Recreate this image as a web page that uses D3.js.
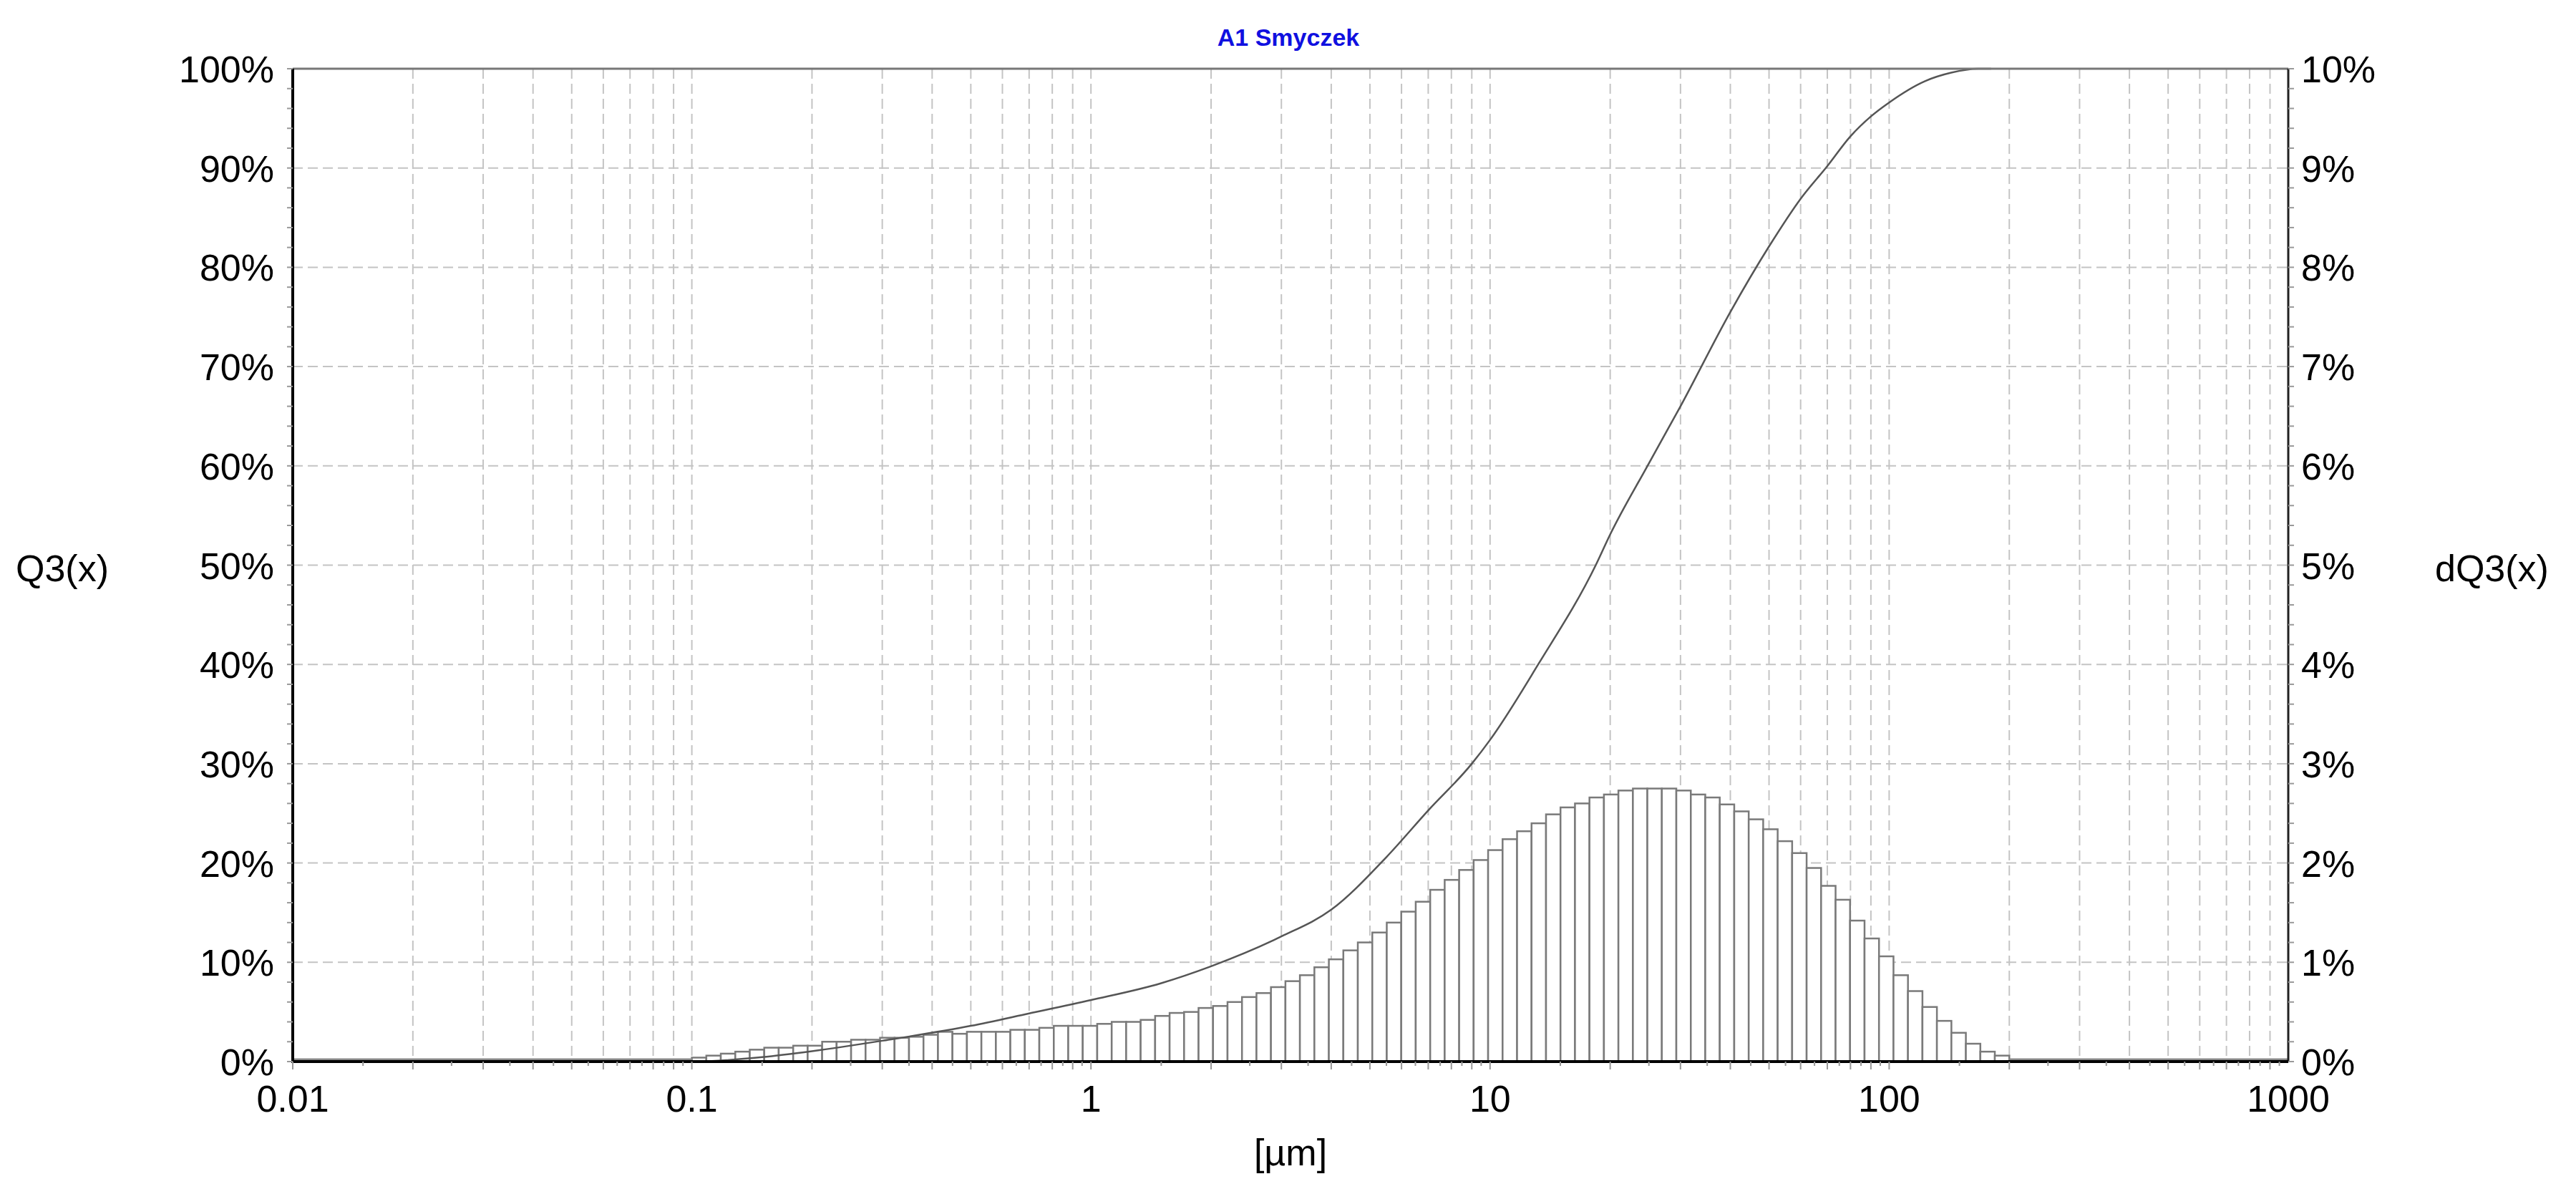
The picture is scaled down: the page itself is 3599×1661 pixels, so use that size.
<!DOCTYPE html>
<html>
<head>
<meta charset="utf-8">
<script src="https://cdn.jsdelivr.net/npm/d3@7"></script>
<style>
  body { margin: 0; background: #fff; }
  text { font-family: "Liberation Sans", Arial, sans-serif; fill: #000; }
  .grid line { stroke: #c4c4c4; stroke-width: 2; stroke-dasharray: 14 7; }
  .bar { fill: #fff; stroke: #7a7a7a; stroke-width: 2.5; }
  .q3 { fill: none; stroke: #555; stroke-width: 2.5; }
</style>
</head>
<body>
<svg width="3599" height="1661"></svg>
<script>
const w = 3599, h = 1661;
const plotL = 409, plotR = 3197, plotT = 96, plotB = 1483;

// histogram: first bin edge, last bin edge (µm), and dQ3 per bin (%)
const binStart = 0.1, binEnd = 200;
const dQ3 = [
  0.04, 0.06, 0.08, 0.10, 0.12, 0.14, 0.14, 0.16, 0.16, 0.20,
  0.20, 0.22, 0.22, 0.24, 0.24, 0.25, 0.27, 0.30, 0.28, 0.30,
  0.30, 0.30, 0.32, 0.32, 0.34, 0.36, 0.36, 0.36, 0.38, 0.40,
  0.40, 0.42, 0.46, 0.49, 0.50, 0.54, 0.56, 0.60, 0.65, 0.69,
  0.75, 0.81, 0.87, 0.95, 1.03, 1.12, 1.20, 1.30, 1.40, 1.51,
  1.61, 1.73, 1.83, 1.93, 2.03, 2.13, 2.24, 2.32, 2.40, 2.49,
  2.56, 2.60, 2.66, 2.69, 2.73, 2.75, 2.75, 2.75, 2.73, 2.69,
  2.66, 2.59, 2.52, 2.44, 2.34, 2.22, 2.10, 1.95, 1.77, 1.63,
  1.42, 1.24, 1.06, 0.87, 0.71, 0.55, 0.41, 0.29, 0.18, 0.10,
  0.06
];

// cumulative curve Q3(x): size (µm), percent
const q3Size = [0.01, 0.1, 0.15, 0.2, 0.3, 0.5, 0.7, 1, 1.5, 2, 3, 4, 5.5, 7, 9, 10,
  13.2, 18.4, 20, 24.8, 30, 40, 50, 60, 70, 80, 90, 100, 123, 143, 167, 180];
const q3Val = [0, 0, 0.45, 1.05, 2.1, 3.6, 4.85, 6.2, 7.9, 9.6, 12.6, 15.3, 20.6, 25.3, 30, 32.4,
  40, 50, 53.1, 60, 66, 75.5, 82.1, 86.9, 90.2, 93.2, 95.2, 96.6, 98.75, 99.6, 100, 100];

const xTicks = [0.01, 0.1, 1, 10, 100, 1000];
const yLeftTicks = d3.range(0, 101, 10);
const yRightTicks = d3.range(0, 11, 1);

const x = d3.scaleLog().domain([0.01, 1000]).range([plotL, plotR]);
const yL = d3.scaleLinear().domain([0, 100]).range([plotB, plotT]);
const yR = d3.scaleLinear().domain([0, 10]).range([plotB, plotT]);

const svg = d3.select("svg");

// grid
const minor = [];
[0.01, 0.1, 1, 10, 100].forEach(d => { for (let k = 1; k < 10; k++) minor.push(d * k); });
const grid = svg.append("g").attr("class", "grid");
grid.selectAll("line.v").data(minor.filter(d => d > 0.01)).join("line")
    .attr("x1", d => x(d)).attr("x2", d => x(d)).attr("y1", plotT).attr("y2", plotB);
grid.selectAll("line.h").data(yLeftTicks.slice(1, -1)).join("line")
    .attr("x1", plotL).attr("x2", plotR).attr("y1", d => yL(d)).attr("y2", d => yL(d));

// bars
const n = dQ3.length;
const edge = i => binStart * Math.pow(binEnd / binStart, i / n);
svg.append("g").selectAll("rect").data(dQ3).join("rect").attr("class", "bar")
    .attr("x", (d, i) => x(edge(i)))
    .attr("width", (d, i) => x(edge(i + 1)) - x(edge(i)))
    .attr("y", d => yR(d))
    .attr("height", d => yR(0) - yR(d));

// zero baselines outside bins
svg.append("line").attr("x1", x(0.01)).attr("x2", x(binStart)).attr("y1", plotB - 3).attr("y2", plotB - 3)
    .attr("stroke", "#888").attr("stroke-width", 3);
svg.append("line").attr("x1", x(binEnd)).attr("x2", x(1000)).attr("y1", plotB - 3).attr("y2", plotB - 3)
    .attr("stroke", "#888").attr("stroke-width", 3);

// cumulative
const q3 = q3Size.map((s, i) => [s, q3Val[i]]);
svg.append("path").attr("class", "q3")
    .attr("d", d3.line().x(d => x(d[0])).y(d => yL(d[1])).curve(d3.curveMonotoneX)(q3));

// frame
svg.append("line").attr("x1", plotL).attr("x2", plotR).attr("y1", plotT).attr("y2", plotT).attr("stroke", "#777").attr("stroke-width", 3);
svg.append("line").attr("x1", plotR).attr("x2", plotR).attr("y1", plotT).attr("y2", plotB).attr("stroke", "#222").attr("stroke-width", 3);
svg.append("line").attr("x1", plotL).attr("x2", plotL).attr("y1", plotT).attr("y2", plotB + 2).attr("stroke", "#000").attr("stroke-width", 4);
svg.append("line").attr("x1", plotL - 2).attr("x2", plotR).attr("y1", plotB).attr("y2", plotB).attr("stroke", "#000").attr("stroke-width", 4);

// bottom minor ticks
const fine = [];
[0.01, 0.1, 1, 10, 100].forEach(d => { for (let k = 1; k < 10; k += 0.5) fine.push(d * k); });
svg.append("g").selectAll("line").data(fine).join("line")
    .attr("x1", d => x(d)).attr("x2", d => x(d)).attr("y1", plotB)
    .attr("y2", (d, i) => plotB + (i % 2 ? 6 : 11))
    .attr("stroke", "#999").attr("stroke-width", 2);
// side minor ticks
const sideTicks = d3.range(0, 101, 2);
svg.append("g").selectAll("line").data(sideTicks).join("line")
    .attr("x1", plotL - 8).attr("x2", plotL).attr("y1", d => yL(d)).attr("y2", d => yL(d))
    .attr("stroke", "#999").attr("stroke-width", 2);
svg.append("g").selectAll("line").data(sideTicks).join("line")
    .attr("x1", plotR).attr("x2", plotR + 8).attr("y1", d => yL(d)).attr("y2", d => yL(d))
    .attr("stroke", "#999").attr("stroke-width", 2);

// tick labels
const fs = 52;
svg.append("g").selectAll("text").data(yLeftTicks).join("text")
    .attr("x", plotL - 26).attr("y", d => yL(d) + 19).attr("text-anchor", "end")
    .attr("font-size", fs).text(d => d + "%");
svg.append("g").selectAll("text").data(yRightTicks).join("text")
    .attr("x", plotR + 18).attr("y", d => yR(d) + 19)
    .attr("font-size", fs).text(d => d + "%");
svg.append("g").selectAll("text").data(xTicks).join("text")
    .attr("x", d => x(d)).attr("y", plotB + 70).attr("text-anchor", "middle")
    .attr("font-size", fs).text(d => d);

// titles
svg.append("text").attr("x", 1800).attr("y", 64).attr("text-anchor", "middle")
    .attr("font-size", 34).attr("font-weight", "bold").style("fill", "#1010e0").text("A1 Smyczek");
svg.append("text").attr("x", 22).attr("y", 812).attr("font-size", fs).text("Q3(x)");
svg.append("text").attr("x", 3402).attr("y", 812).attr("font-size", fs).text("dQ3(x)");
svg.append("text").attr("x", 1803).attr("y", 1628).attr("text-anchor", "middle")
    .attr("font-size", fs).text("[µm]");
</script>
</body>
</html>
